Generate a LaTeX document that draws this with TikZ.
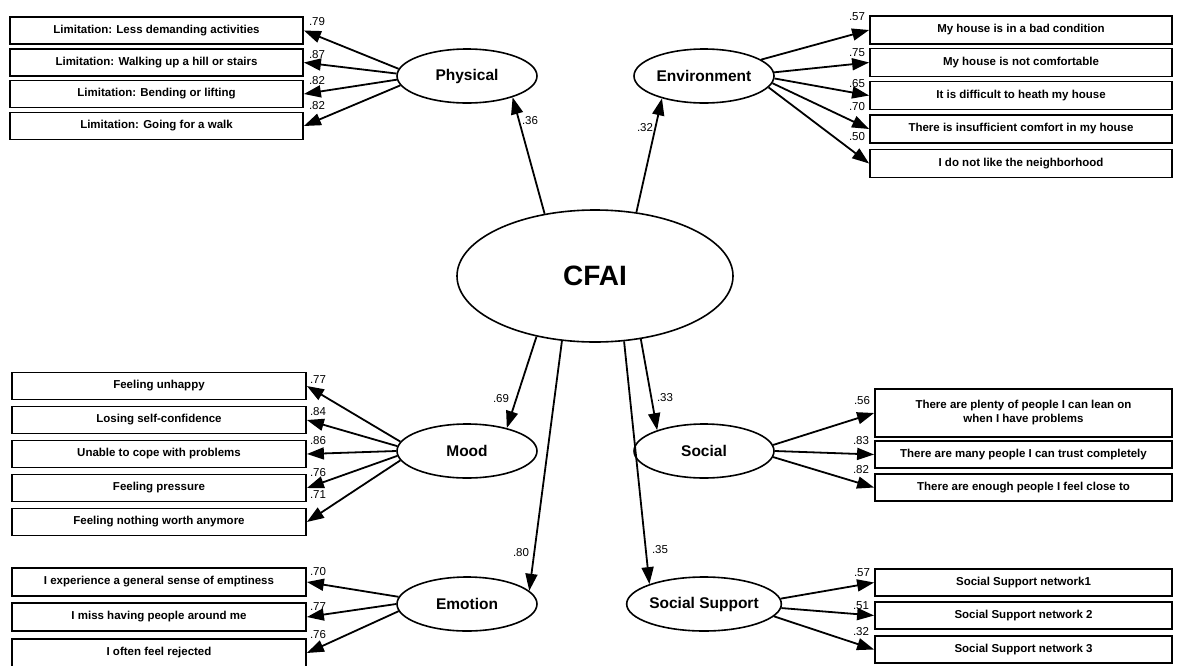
\documentclass[tikz,border=0pt]{standalone}
\usepackage{fontspec}
\setmainfont{Liberation Sans}
\usetikzlibrary{arrows.meta,shapes.geometric}

\newcommand{\bx}{\fontsize{11.5}{14}\selectfont\bfseries}

\begin{document}
\begin{tikzpicture}[x=1pt,y=-1pt,
   obsL/.style={draw,line width=1.8pt,minimum width=294pt,minimum height=27pt,inner sep=0pt,font=\bx},
   obsR/.style={draw,line width=1.8pt,minimum width=300pt,minimum height=27pt,inner sep=0pt,font=\bx,align=center},
   latent/.style={draw,ellipse,line width=1.6pt,minimum width=140pt,minimum height=54pt,inner sep=0pt,
                  font=\fontsize{15.5}{18}\selectfont\bfseries},
   coef/.style={inner sep=0pt,font=\fontsize{11.5}{13}\selectfont},
   arr/.style={line width=1.8pt,-{Triangle[length=17pt,width=12pt]}}]
   \useasboundingbox (0,0) rectangle (1178,665);
   \clip (0,0) rectangle (1178,665);

   % latent variables
   \node[latent,minimum width=276pt,minimum height=132pt,font=\fontsize{28}{32}\selectfont\bfseries]
        (cfai) at (595,276) {CFAI};
   \node[latent] (phys) at (467,76)  {Physical};
   \node[latent] (env)  at (704,76)  {Environment};
   \node[latent] (mood) at (467,451) {Mood};
   \node[latent] (soc)  at (704,451) {Social};
   \node[latent] (emo)  at (467,604) {Emotion};
   \node[latent] (ssup) at (704,604) {Social Support};

   % Physical
   \node[obsL,minimum width=293pt] (p1) at (156.5,30.5) {Limitation: Less demanding activities};
   \node[obsL,minimum width=293pt] (p2) at (156.5,62.5) {Limitation: Walking up a hill or stairs};
   \node[obsL,minimum width=293pt] (p3) at (156.5,94)   {Limitation: Bending or lifting};
   \node[obsL,minimum width=293pt] (p4) at (156.5,126)  {Limitation: Going for a walk};
   \draw[arr] (phys.174) -- (p1.east);
   \draw[arr] (phys.178) -- (p2.east);
   \draw[arr] (phys.183) -- (p3.east);
   \draw[arr] (phys.188) -- (p4.east);
   \node[coef] (lp1) at (317,22)  {.79};
   \node[coef] (lp2) at (317,55)  {.87};
   \node[coef] (lp3) at (317,81)  {.82};
   \node[coef] (lp4) at (317,106) {.82};

   % Environment
   \node[obsR,minimum width=302pt,minimum height=28pt] (e1) at (1021,30)   {My house is in a bad condition};
   \node[obsR,minimum width=302pt,minimum height=28pt] (e2) at (1021,62.5) {My house is not comfortable};
   \node[obsR,minimum width=302pt,minimum height=28pt] (e3) at (1021,95.5) {It is difficult to heath my house};
   \node[obsR,minimum width=302pt,minimum height=28pt] (e4) at (1021,129)  {There is insufficient comfort in my house};
   \node[obsR,minimum width=302pt,minimum height=28pt] (e5) at (1021,163.5) {I do not like the neighborhood};
   \draw[arr] (env.16) -- (e1.west);
   \draw[arr] (env.3)  -- (e2.west);
   \draw[arr] (env.-2) -- (e3.west);
   \draw[arr] (env.-6) -- (e4.west);
   \draw[arr] (env.-10) -- (e5.west);
   \node[coef] (le1) at (857,17)  {.57};
   \node[coef] (le2) at (857,53)  {.75};
   \node[coef] (le3) at (857,84)  {.65};
   \node[coef] (le4) at (857,107) {.70};
   \node[coef] (le5) at (857,137) {.50};

   % Mood
   \node[obsL] (m1) at (159,386) {Feeling unhappy};
   \node[obsL] (m2) at (159,420) {Losing self-confidence};
   \node[obsL] (m3) at (159,454) {Unable to cope with problems};
   \node[obsL] (m4) at (159,488) {Feeling pressure};
   \node[obsL] (m5) at (159,522) {Feeling nothing worth anymore};
   \draw[arr] (mood.172) -- (m1.east);
   \draw[arr] (mood.176) -- (m2.east);
   \draw[arr] (mood.180) -- (m3.east);
   \draw[arr] (mood.184) -- (m4.east);
   \draw[arr] (mood.188) -- (m5.east);
   \node[coef] (lm1) at (318,380) {.77};
   \node[coef] (lm2) at (318,412) {.84};
   \node[coef] (lm3) at (318,441) {.86};
   \node[coef] (lm4) at (318,473) {.76};
   \node[coef] (lm5) at (318,495) {.71};

   % Emotion
   \node[obsL,minimum height=28pt] (em1) at (159,582) {I experience a general sense of emptiness};
   \node[obsL,minimum height=28pt] (em2) at (159,617) {I miss having people around me};
   \node[obsL,minimum height=28pt] (em3) at (159,653) {I often feel rejected};
   \draw[arr] (emo.174) -- (em1.east);
   \draw[arr] (emo.180) -- (em2.east);
   \draw[arr] (emo.186) -- (em3.east);
   \node[coef] (lem1) at (318,572) {.70};
   \node[coef] (lem2) at (318,607) {.77};
   \node[coef] (lem3) at (318,635) {.76};

   % Social
   \node[obsR,minimum width=297pt,minimum height=48pt] (s1) at (1023.5,413)
        {There are plenty of people I can lean on\\when I have problems};
   \node[obsR,minimum width=297pt] (s2) at (1023.5,454.5) {There are many people I can trust completely};
   \node[obsR,minimum width=297pt] (s3) at (1023.5,487.5) {There are enough people I feel close to};
   \draw[arr] (soc.5)  -- (s1.west);
   \draw[arr] (soc.0)  -- (s2.west);
   \draw[arr] (soc.-5) -- (s3.west);
   \node[coef] (ls1) at (862,401) {.56};
   \node[coef] (ls2) at (861,441) {.83};
   \node[coef] (ls3) at (861,470) {.82};

   % Social Support
   \node[obsR,minimum width=297pt] (n1) at (1023.5,582.5) {Social Support network1};
   \node[obsR,minimum width=297pt] (n2) at (1023.5,615.5) {Social Support network 2};
   \node[obsR,minimum width=297pt] (n3) at (1023.5,649.5) {Social Support network 3};
   \draw[arr] (ssup.4.5) -- (n1.west);
   \draw[arr] (ssup.-3.5) -- (n2.west);
   \draw[arr] (ssup.-10) -- (n3.west);
   \node[coef] (ln1) at (862,573) {.57};
   \node[coef] (ln2) at (861,606) {.51};
   \node[coef] (ln3) at (861,632) {.32};

   % second order loadings
   \draw[arr] (cfai.129.5) -- (phys.335);
   \draw[arr] (cfai.57.6)  -- (env.208);
   \draw[arr] (cfai.226)   -- (mood.30);
   \draw[arr] (cfai.243)   -- (emo.12);
   \draw[arr] (cfai.306)   -- (soc.156);
   \draw[arr] (cfai.294)   -- (ssup.160);
   \node[coef] (lc1) at (530,121) {.36};
   \node[coef] (lc2) at (645,128) {.32};
   \node[coef] (lc3) at (501,399) {.69};
   \node[coef] (lc4) at (665,398) {.33};
   \node[coef] (lc5) at (521,553) {.80};
   \node[coef] (lc6) at (660,550) {.35};
\end{tikzpicture}
\end{document}
